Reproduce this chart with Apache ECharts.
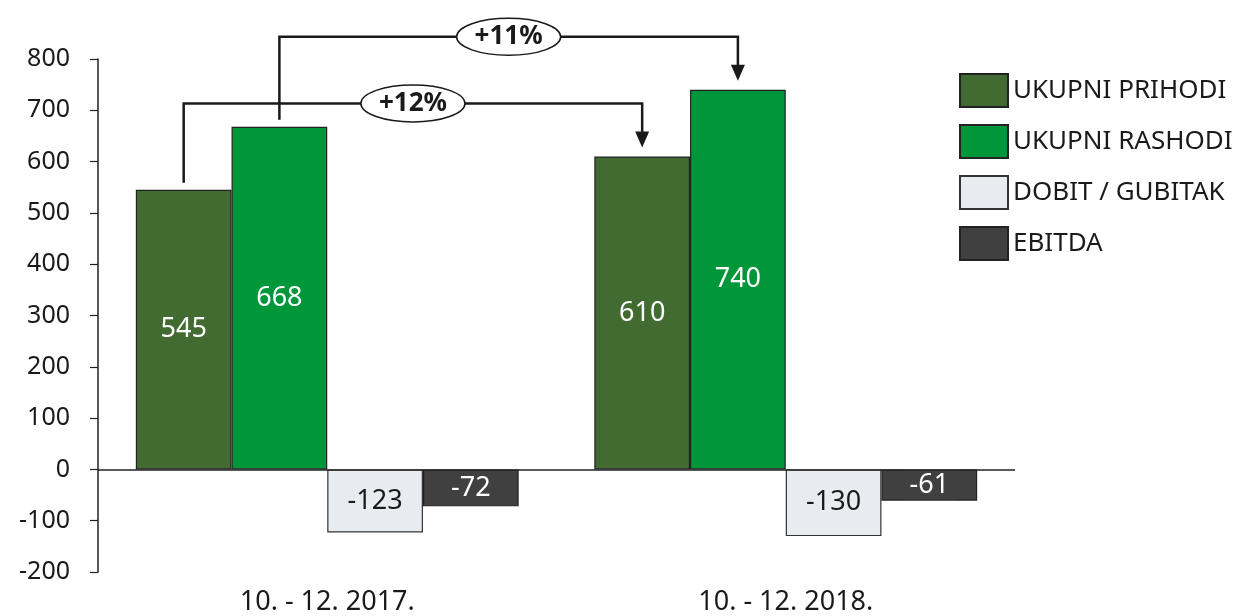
<!DOCTYPE html>
<html>
<head>
<meta charset="utf-8">
<script src="https://cdn.jsdelivr.net/npm/echarts@6/dist/echarts.min.js"></script>
<style>
  html, body { margin: 0; padding: 0; background: #fff; }
  #main { width: 1241px; height: 616px; }
</style>
</head>
<body>
<div id="main"></div>
<script>
// podaci
var categories = ['10. - 12. 2017.', '10. - 12. 2018.'];
var prihodi = [545, 610];
var rashodi = [668, 740];
var dobit = [-123, -130];
var ebitda = [-72, -61];
var growth = ['+12%', '+11%']; // prihodi, rashodi

var FONT = 'Noto Sans';
var chart = echarts.init(document.getElementById('main'));

function barSeries(name, data, color, labelColor, extra) {
  var s = {
    name: name,
    type: 'bar',
    data: data,
    barGap: 0,
    barCategoryGap: '16.5%',
    itemStyle: { color: color, borderColor: '#222', borderWidth: 1.2 },
    label: {
      show: true,
      position: 'inside',
      color: labelColor,
      fontFamily: FONT,
      fontSize: 27
    }
  };
  if (extra) extra(s);
  return s;
}

var option = {
  animation: false,
  grid: { left: 98, right: 226, top: 59, bottom: 44 },
  legend: {
    orient: 'vertical',
    left: 954,
    top: 68,
    itemWidth: 48,
    itemHeight: 33,
    itemGap: 16,
    icon: 'rect',
    textStyle: { fontFamily: FONT, fontSize: 26, color: '#1a1a1a', padding: [0, 0, 0, 0] },
    data: ['UKUPNI PRIHODI', 'UKUPNI RASHODI', 'DOBIT / GUBITAK', 'EBITDA']
  },
  xAxis: {
    type: 'category',
    data: categories,
    axisLine: { show: false },
    axisTick: { show: false },
    axisLabel: { margin: 17, fontFamily: FONT, fontSize: 27, color: '#1a1a1a' }
  },
  yAxis: {
    type: 'value',
    min: -200,
    max: 800,
    interval: 100,
    splitLine: { show: false },
    axisLine: { show: true, lineStyle: { color: '#222', width: 1.5 } },
    axisTick: { show: true, length: 8, lineStyle: { color: '#222', width: 1.2 } },
    axisLabel: { margin: 28, fontFamily: FONT, fontSize: 25, color: '#1a1a1a' }
  },
  series: [
    barSeries('UKUPNI PRIHODI', prihodi, '#426B32', '#fff', function (s) {
      s.markLine = {
        silent: true,
        symbol: 'none',
        label: { show: false },
        lineStyle: { color: '#222', width: 1.5, type: 'solid' },
        data: [{ yAxis: 0 }]
      };
    }),
    barSeries('UKUPNI RASHODI', rashodi, '#00963A', '#fff'),
    barSeries('DOBIT / GUBITAK', dobit, '#E8EBF0', '#1a1a1a', function (s) {
      s.itemStyle.borderColor = '#333';
    }),
    barSeries('EBITDA', ebitda, '#404040', '#fff', function (s) {
      s.label.backgroundColor = '#404040';
      s.label.padding = [1, 6, 1, 6];
    })
  ]
};

chart.setOption(option);

// strelice za rast, iz polozaja stupaca
function barTop(si, di) {
  var l = chart.getModel().getSeriesByIndex(si).getData().getItemLayout(di);
  return { x: l.x + l.width / 2, y: Math.min(l.y, l.y + l.height) };
}

function bracket(si, text) {
  var a = barTop(si, 0), b = barTop(si, 1);
  var level = Math.min(a.y, b.y) - 53;
  var midX = (a.x + b.x) / 2;
  var tipY = b.y - 9;
  var stroke = { stroke: '#1a1a1a', lineWidth: 2.5, fill: null };
  return [
    { type: 'polyline', z: 100, shape: { points: [[a.x, a.y - 7], [a.x, level], [b.x, level], [b.x, tipY - 14]] }, style: stroke },
    { type: 'polygon', z: 100, shape: { points: [[b.x - 7, tipY - 16], [b.x + 7, tipY - 16], [b.x, tipY]] }, style: { fill: '#1a1a1a' } },
    { type: 'ellipse', z: 101, shape: { cx: midX, cy: level, rx: 52, ry: 18.5 }, style: { fill: '#fff', stroke: '#1a1a1a', lineWidth: 1.5 } },
    { type: 'text', z: 102, x: midX, y: level, style: { text: text, fontFamily: FONT, fontSize: 26, fontWeight: 'bold', fill: '#1a1a1a', align: 'center', verticalAlign: 'middle' } }
  ];
}

chart.setOption({ graphic: bracket(0, growth[0]).concat(bracket(1, growth[1])) });
</script>
</body>
</html>
